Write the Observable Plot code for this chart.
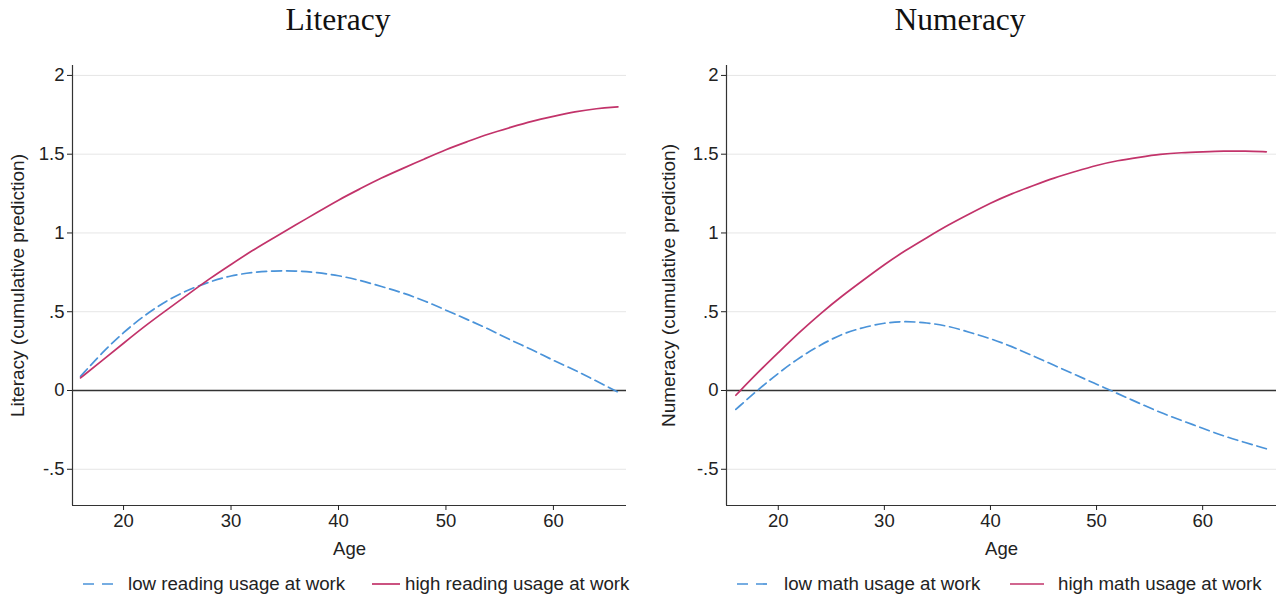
<!DOCTYPE html>
<html><head><meta charset="utf-8">
<script src="https://cdn.jsdelivr.net/npm/d3@7"></script>
<script src="https://cdn.jsdelivr.net/npm/@observablehq/plot@0.6"></script>
<style>
body{margin:0;background:#fff;font-family:"Liberation Sans",Arial,sans-serif;}
#wrap{position:relative;width:1279px;height:599px;overflow:hidden;}
.title{position:absolute;top:2px;font-family:"Liberation Serif","Times New Roman",serif;font-size:31.5px;color:#111;white-space:nowrap;transform:translateX(-50%);}
.plot{position:absolute;top:42px;}
.lg{position:absolute;top:572px;height:24px;display:flex;align-items:center;font-size:18.7px;color:#222;white-space:nowrap;}
</style></head>
<body><div id="wrap"></div>
<script>
const ages = [16,18,20,22,24,26,28,30,32,34,36,38,40,42,44,46,48,50,52,54,56,58,60,62,64,66];
const litLow  = [0.09,0.24,0.37,0.48,0.57,0.64,0.69,0.73,0.75,0.76,0.76,0.75,0.73,0.70,0.66,0.62,0.57,0.51,0.45,0.39,0.32,0.26,0.19,0.13,0.06,-0.01];
const litHigh = [0.08,0.19,0.30,0.41,0.51,0.61,0.71,0.80,0.89,0.97,1.05,1.13,1.21,1.28,1.35,1.41,1.47,1.53,1.58,1.63,1.67,1.71,1.74,1.77,1.79,1.80];
const numLow  = [-0.12,0.00,0.11,0.21,0.29,0.36,0.40,0.43,0.44,0.43,0.41,0.37,0.33,0.28,0.22,0.16,0.10,0.04,-0.02,-0.08,-0.14,-0.19,-0.24,-0.29,-0.33,-0.37];
const numHigh = [-0.03,0.11,0.24,0.37,0.49,0.60,0.70,0.80,0.89,0.97,1.05,1.12,1.19,1.25,1.30,1.35,1.39,1.43,1.46,1.48,1.50,1.51,1.515,1.52,1.52,1.515];
const xTicks = [20,30,40,50,60];
const yTicks = [-0.5,0,0.5,1,1.5,2];
const yTickLabels = ["-.5","0",".5","1","1.5","2"];
const titles = ["Literacy","Numeracy"];
const yLabels = ["Literacy (cumulative prediction)","Numeracy (cumulative prediction)"];
const legendLabels = [["low reading usage at work","high reading usage at work"],["low math usage at work","high math usage at work"]];

const blue = "#4a93d9", pink = "#c2336a";
const yDomain = [-0.73, 2.063];

function makePanel(low, high, cfg){
  const dLow = ages.map((a,i)=>({age:a, v:low[i]}));
  const dHigh = ages.map((a,i)=>({age:a, v:high[i]}));
  return Plot.plot({
    width: cfg.width, height: 525,
    marginTop: 23, marginBottom: 62, marginLeft: cfg.ml, marginRight: cfg.mr,
    style: {fontFamily: '"Liberation Sans", Arial, sans-serif', fontSize: "18.5px", color: "#222", background: "#fff"},
    x: {domain: cfg.xDomain},
    y: {domain: yDomain},
    marks: [
      Plot.gridY(yTicks.filter(d=>d!==0), {stroke:"#e6e6e6", strokeOpacity:1, strokeWidth:1}),
      Plot.ruleY([0], {stroke:"#333", strokeWidth:1.4}),
      Plot.ruleX([cfg.xDomain[0]], {stroke:"#333", strokeWidth:1.2}),
      Plot.ruleY([yDomain[0]], {stroke:"#333", strokeWidth:1.2}),
      Plot.axisY(yTicks, {tickFormat:(d)=>yTickLabels[yTicks.indexOf(d)], tickSize:5, tickPadding:3, fontSize:18.5,
        label: null}),
      Plot.axisY({label: cfg.yLabel, labelAnchor:"center", labelArrow:"none", labelOffset: cfg.lo, fontSize:19, ticks:[], tickSize:0}),
      Plot.axisX(xTicks, {tickSize:5, tickPadding:3, fontSize:18.5, label:"Age", labelAnchor:"center", labelArrow:"none", labelOffset:49}),
      Plot.line(dLow, {x:"age", y:"v", stroke:blue, strokeWidth:1.7, strokeDasharray:"10,5", curve:"basis"}),
      Plot.line(dHigh, {x:"age", y:"v", stroke:pink, strokeWidth:1.7, curve:"basis"})
    ]
  });
}

const wrap = document.getElementById("wrap");
const cfgs = [
  {left:0, width:640, ml:72, mr:14, xDomain:[15.25,66.8], lo:62, titleX:338, lg:[83,128,372,28,405]},
  {left:640, width:639, ml:86, mr:3, xDomain:[15.12,66.96], lo:65, titleX:960, lg:[737,784,1010,34,1058]}
];
const series = [[litLow,litHigh],[numLow,numHigh]];
function addLegendItem(x, html){
  const d = document.createElement("div"); d.className="lg"; d.style.left=x+"px"; d.innerHTML=html; wrap.appendChild(d);
}
cfgs.forEach((c,k)=>{
  c.yLabel = yLabels[k];
  const t = document.createElement("div"); t.className="title"; t.style.left=c.titleX+"px"; t.textContent=titles[k]; wrap.appendChild(t);
  const p = makePanel(series[k][0], series[k][1], c);
  const holder = document.createElement("div"); holder.className="plot"; holder.style.left=c.left+"px"; holder.appendChild(p); wrap.appendChild(holder);
  addLegendItem(c.lg[0], `<svg width="31" height="4"><line x1="0" y1="2" x2="31" y2="2" stroke="${blue}" stroke-width="1.7" stroke-dasharray="11,8"/></svg>`);
  addLegendItem(c.lg[1], `<span>${legendLabels[k][0]}</span>`);
  addLegendItem(c.lg[2], `<svg width="${c.lg[3]}" height="4"><line x1="0" y1="2" x2="${c.lg[3]}" y2="2" stroke="${pink}" stroke-width="1.7"/></svg>`);
  addLegendItem(c.lg[4], `<span>${legendLabels[k][1]}</span>`);
});
</script></body></html>
